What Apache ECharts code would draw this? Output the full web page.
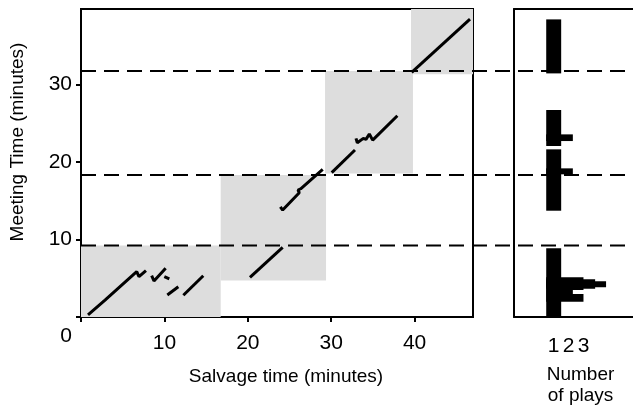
<!DOCTYPE html>
<html>
<head>
<meta charset="utf-8">
<script src="https://cdn.jsdelivr.net/npm/echarts@6/dist/echarts.min.js"></script>
<style>
html, body { margin: 0; padding: 0; background: #fff; }
#main { width: 633px; height: 407px; }
</style>
</head>
<body>
<div id="main"></div>
<script>
// tick values
var xTicks = [0, 10, 20, 30, 40];
var yTicks = [0, 10, 20, 30];
var playTicks = [0.5, 1.5, 2.5];
var playLabels = ["1", "2", "3"];

// shaded blocks: [x0, x1, y0, y1]
var blocks = [
    [0, 16.75, 0, 9.2],
    [16.75, 29.38, 4.7, 18.3],
    [29.26, 39.8, 18.5, 31.7],
    [39.57, 47, 31.3, 39.7]
];

// dashed levels (minutes)
var levels = [9.2, 18.3, 31.7];

// play traces [salvage, meeting]
var seg1 = [[0.84, 0.26], [2.88, 2.19], [6.68, 5.84], [6.95, 5.19], [7.79, 5.97]];
var seg2 = [[8.47, 5.32], [8.75, 4.64], [10.15, 6.27]];
var seg3 = [[9.99, 5.19], [10.59, 4.9]];
var seg4 = [[10.35, 2.84], [11.67, 3.9]];
var seg5 = [[12.27, 2.8], [14.66, 5.32]];
var seg6 = [[20.26, 5.12], [24.18, 8.98]];
var seg7 = [[23.9, 14.2], [24.18, 13.79], [26.17, 16.02], [26.02, 16.37], [26.34, 16.53], [28.98, 19.03]];
var seg8 = [[30.06, 18.6], [32.85, 21.52]];
var seg9 = [[32.97, 23.02], [33.13, 22.46], [33.85, 23.02], [34.17, 22.9], [34.57, 23.58], [34.97, 22.8], [37.93, 25.94]];
var seg10 = [[39.65, 31.53], [46.64, 38.4]];
var segments = [seg1, seg2, seg3, seg4, seg5, seg6, seg7, seg8, seg9, seg10];

// histogram: [lo, hi, plays]
var hist = [
    [31.4, 38.36, 1],
    [22.04, 26.68, 1],
    [22.68, 23.54, 1.78],
    [13.7, 21.61, 1],
    [18.39, 19.16, 1.78],
    [0.04, 8.85, 1],
    [3.48, 5.12, 2.49],
    [3.65, 4.86, 3.27],
    [3.83, 4.6, 4.0],
    [2.96, 3.48, 1.78],
    [1.97, 2.96, 2.49]
];

var font = "Liberation Sans";
var myChart = echarts.init(document.getElementById("main"));

var series = [{
    type: "custom",
    xAxisIndex: 0,
    yAxisIndex: 0,
    z: 1,
    silent: true,
    renderItem: function (params, api) {
        var p0 = api.coord([api.value(0), api.value(3)]);
        var p1 = api.coord([api.value(1), api.value(2)]);
        return {
            type: "rect",
            shape: { x: p0[0], y: p0[1], width: p1[0] - p0[0], height: p1[1] - p0[1] },
            style: { fill: "#dddddd" }
        };
    },
    data: blocks
}, {
    type: "custom",
    xAxisIndex: 0,
    yAxisIndex: 0,
    z: 3,
    silent: true,
    renderItem: function (params, api) {
        var p = api.coord([0, api.value(1)]);
        return {
            type: "line",
            shape: { x1: p[0], y1: p[1], x2: api.getWidth(), y2: p[1] },
            style: { stroke: "#000", lineWidth: 2, lineDash: [15, 8] }
        };
    },
    data: levels.map(function (v) { return [0, v]; })
}, {
    type: "custom",
    xAxisIndex: 2,
    yAxisIndex: 2,
    z: 4,
    silent: true,
    renderItem: function (params, api) {
        var p0 = api.coord([0, api.value(1)]);
        var p1 = api.coord([api.value(2), api.value(0)]);
        return {
            type: "rect",
            shape: { x: p0[0], y: p0[1], width: p1[0] - p0[0], height: p1[1] - p0[1] },
            style: { fill: "#000" }
        };
    },
    data: hist
}];

segments.forEach(function (seg) {
    series.push({
        type: "line",
        xAxisIndex: 0,
        yAxisIndex: 0,
        z: 5,
        silent: true,
        symbol: "none",
        lineStyle: { color: "#000", width: 3 },
        data: seg
    });
});

var option = {
    animation: false,
    grid: [{
        left: 81, top: 9, width: 392, height: 308,
        outerBoundsMode: "none",
        show: true, borderColor: "#000", borderWidth: 2
    }, {
        left: 514, top: 9, width: 119, height: 308,
        outerBoundsMode: "none"
    }],
    xAxis: [{
        type: "value", gridIndex: 0, min: 0, max: 47,
        splitLine: { show: false },
        axisLine: { lineStyle: { color: "#000", width: 2 } },
        axisTick: { customValues: xTicks, length: 5, lineStyle: { color: "#000", width: 2 } },
        axisLabel: { customValues: xTicks.slice(1), color: "#000", fontSize: 21, fontFamily: font, margin: 16 },
        name: "Salvage time (minutes)",
        nameLocation: "middle",
        nameGap: 50,
        nameTextStyle: { color: "#000", fontSize: 19, fontFamily: font, padding: [0, 0, 0, 18] }
    }, {
        type: "value", gridIndex: 0, min: 0, max: 47,
        splitLine: { show: false },
        axisLine: { show: false },
        axisTick: { inside: true, customValues: xTicks, length: 5, lineStyle: { color: "#000", width: 2 } },
        axisLabel: { show: false }
    }, {
        type: "value", gridIndex: 1, min: -2.153, max: 5.8,
        splitLine: { show: false },
        axisLine: { onZero: false, lineStyle: { color: "#000", width: 2 } },
        axisTick: { show: false },
        axisLabel: {
            customValues: playTicks, color: "#000", fontSize: 21, fontFamily: font, margin: 19,
            formatter: function (v) { return playLabels[playTicks.indexOf(v)]; }
        },
        name: "Number\nof plays",
        nameLocation: "middle",
        nameGap: 47,
        nameTextStyle: { color: "#000", fontSize: 19, lineHeight: 21, fontFamily: font, padding: [0, 0, 0, 14] }
    }, {
        type: "value", gridIndex: 1, position: "top", min: -2.153, max: 5.8,
        splitLine: { show: false },
        axisLine: { onZero: false, lineStyle: { color: "#000", width: 2 } },
        axisTick: { show: false },
        axisLabel: { show: false }
    }],
    yAxis: [{
        type: "value", gridIndex: 0, min: 0, max: 39.7,
        splitLine: { show: false },
        axisLine: { lineStyle: { color: "#000", width: 2 } },
        axisTick: { customValues: yTicks, length: 5, lineStyle: { color: "#000", width: 2 } },
        axisLabel: {
            customValues: yTicks, color: "#000", fontSize: 21, fontFamily: font, margin: 9,
            formatter: function (v) { return v === 0 ? "{z|0}" : String(v); },
            rich: { z: { fontSize: 21, fontFamily: font, color: "#000", padding: [38, 0, 0, 0] } }
        },
        name: "Meeting Time (minutes)",
        nameLocation: "middle",
        nameGap: 54,
        nameTextStyle: { color: "#000", fontSize: 19, fontFamily: font, padding: [0, 0, 0, 42] }
    }, {
        type: "value", gridIndex: 0, min: 0, max: 39.7,
        splitLine: { show: false },
        axisLine: { show: false },
        axisTick: { inside: true, customValues: yTicks, length: 5, lineStyle: { color: "#000", width: 2 } },
        axisLabel: { show: false }
    }, {
        type: "value", gridIndex: 1, min: 0, max: 39.7,
        splitLine: { show: false },
        axisLine: { onZero: false, lineStyle: { color: "#000", width: 2 } },
        axisTick: { show: false },
        axisLabel: { show: false }
    }],
    series: series
};
myChart.setOption(option);
</script>
</body>
</html>
